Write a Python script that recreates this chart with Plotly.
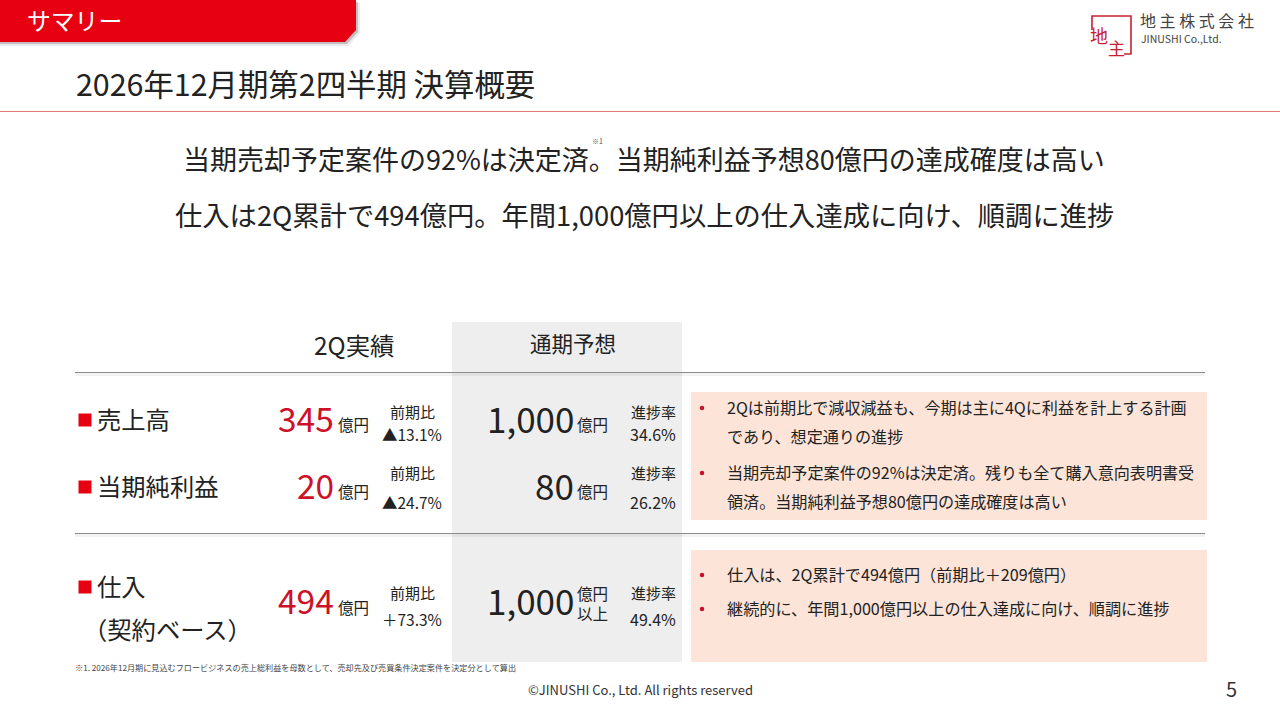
import plotly.graph_objects as go

FONT = "Noto Sans CJK JP, Noto Sans, sans-serif"
RED = "#E60012"
VALUE_RED = "#CC1128"
INK = "#222222"

# ---- content ----
tab_title = "サマリー"
page_title = "2026年12月期第2四半期 決算概要"
headlines = ["当期売却予定案件の92%は決定済。当期純利益予想80億円の達成確度は高い",
             "仕入は2Q累計で494億円。年間1,000億円以上の仕入達成に向け、順調に進捗"]
company_jp = "地 主 株 式 会 社"
company_en = "JINUSHI Co.,Ltd."
col_actual = "2Q実績"
col_forecast = "通期予想"
metrics = ["売上高", "当期純利益", "仕入"]
metric_sub = "（契約ベース）"
actual_values = ["345", "20", "494"]
yoy_label = "前期比"
yoy_values = ["▲13.1%", "▲24.7%", "＋73.3%"]
forecast_values = ["1,000", "80", "1,000"]
progress_label = "進捗率"
progress_values = ["34.6%", "26.2%", "49.4%"]
unit = "億円"
unit_above = "以上"
notes_upper = ["2Qは前期比で減収減益も、今期は主に4Qに利益を計上する計画", "であり、想定通りの進捗",
               "当期売却予定案件の92%は決定済。残りも全て購入意向表明書受", "領済。当期純利益予想80億円の達成確度は高い"]
notes_lower = ["仕入は、2Q累計で494億円（前期比＋209億円）", "継続的に、年間1,000億円以上の仕入達成に向け、順調に進捗"]
footnote = "※1. 2026年12月期に見込むフロービジネスの売上総利益を母数として、売却先及び売買条件決定案件を決定分として算出"
copyright_text = "©JINUSHI Co., Ltd. All rights reserved"
page_no = "5"

# ---- layout positions ----
row_value_y = [420, 487, 602]
row_unit_y = [425, 492, 608]
row_top_y = [413, 474, 594]
row_bottom_y = [435, 503, 620]
row_label_y = [420, 487, 587]
note_upper_y = [408, 437, 473, 502]
note_lower_y = [575, 609]
bullet_y = [408, 473, 575, 609]

anns = []
def text(x, y, s, size, color=INK, anchor="left", weight=None):
    f = dict(family=FONT, size=size, color=color)
    if weight:
        f["weight"] = weight
    anns.append(dict(x=x, y=y - 0.08 * size, text=s, xref="x", yref="y", showarrow=False,
                     xanchor=anchor, yanchor="middle", font=f,
                     borderpad=0, borderwidth=0))

shapes = []
def rect(x0, y0, x1, y1, fill, layer="below"):
    shapes.append(dict(type="rect", x0=x0, y0=y0, x1=x1, y1=y1, xref="x", yref="y",
                       fillcolor=fill, line=dict(width=0), layer=layer))
def hline(x0, x1, y, color, w=1):
    shapes.append(dict(type="line", x0=x0, x1=x1, y0=y, y1=y, xref="x", yref="y",
                       line=dict(color=color, width=w), layer="below"))
def path(d, fill=None, color=None, w=0):
    shapes.append(dict(type="path", path=d, xref="x", yref="y",
                       fillcolor=fill if fill else "rgba(0,0,0,0)",
                       line=dict(color=color if color else "rgba(0,0,0,0)", width=w), layer="below"))

# tab with soft shadow
path("M0,3 L360,3 L360,33 L348,46 L0,46 Z", fill="rgba(0,0,0,0.08)")
path("M0,2 L358,2 L358,32 L347,44 L0,44 Z", fill="rgba(0,0,0,0.18)")
path("M0,0 L356,0 L356,30 L345,42 L0,42 Z", fill=RED)
text(27, 21, tab_title, 23.8, "#FFFFFF")

# title
text(76, 85, page_title, 30.4)
hline(0, 1280, 111.5, "#E27878", 1)

# headlines
text(644, 161, headlines[0], 27, anchor="center")
text(644, 216, headlines[1], 27.3, anchor="center")
text(597, 142, "※1", 7, "#555555", anchor="center")

# logo
path("M1092,30 L1092,16 L1131,16 L1131,54 L1124,54", color="#C8202F", w=1.6)
text(1099, 36, "地", 18, "#C8202F", anchor="center")
text(1116, 49, "主", 17, "#C8202F", anchor="center")
text(1140, 21.5, company_jp, 16, "#444444")
text(1141, 39.5, company_en, 10.5, "#444444")

# table frame
rect(452, 322, 682, 662, "#EEEEEE")
hline(75, 1205, 374.5, "rgba(0,0,0,0.05)", 3)
hline(75, 1205, 535.5, "rgba(0,0,0,0.05)", 3)
hline(75, 1205, 372.5, "#8C8C8C", 1)
hline(75, 1205, 533.5, "#8C8C8C", 1)
rect(691, 392, 1207, 520, "#FCE4D8")
rect(691, 550, 1207, 662, "#FCE4D8")

text(354, 346, col_actual, 24.4, anchor="center")
text(573, 344, col_forecast, 21.5, anchor="center")

for i in range(3):
    text(97, row_label_y[i], metrics[i], 24.3)
    text(334, row_value_y[i], actual_values[i], 33.5, VALUE_RED, anchor="right")
    text(338, row_unit_y[i], unit, 15.5)
    text(412, row_top_y[i], yoy_label, 15, anchor="center")
    text(412, row_bottom_y[i], yoy_values[i], 15.5, anchor="center")
    text(574, row_value_y[i], forecast_values[i], 35, anchor="right")
    if i < 2:
        text(577, row_unit_y[i], unit, 15.5)
    text(653, row_top_y[i], progress_label, 15, anchor="center")
    text(653, row_bottom_y[i], progress_values[i], 16, anchor="center")
text(83, 630, metric_sub, 24.3)
text(577, 594, unit, 15.5)
text(577, 614, unit_above, 15.5)

for s, y in zip(notes_upper, note_upper_y):
    text(727, y, s, 16.1)
for s, y in zip(notes_lower, note_lower_y):
    text(727, y, s, 16.15)

text(75, 668, footnote, 8.15, "#444444")
text(640, 691, copyright_text, 13, "#333333", anchor="center")
text(1231, 690, page_no, 20, "#333333", anchor="center")

fig = go.Figure()
fig.add_trace(go.Scatter(x=[85] * 3, y=row_label_y, mode="markers",
                         marker=dict(symbol="square", size=13, color=RED),
                         hoverinfo="skip", showlegend=False))
fig.add_trace(go.Scatter(x=[702] * 4, y=bullet_y, mode="markers",
                         marker=dict(symbol="circle", size=4.5, color="#C8102E"),
                         hoverinfo="skip", showlegend=False))
fig.update_layout(width=1280, height=720, autosize=False,
                  margin=dict(l=0, r=0, t=0, b=0),
                  paper_bgcolor="#FFFFFF", plot_bgcolor="#FFFFFF",
                  shapes=shapes, annotations=anns, showlegend=False,
                  xaxis=dict(range=[0, 1280], visible=False, fixedrange=True),
                  yaxis=dict(range=[720, 0], visible=False, fixedrange=True))
fig.write_html("out.html", config=dict(displayModeBar=False),
               post_script="document.body.style.margin='0';document.body.style.overflow='hidden';")
